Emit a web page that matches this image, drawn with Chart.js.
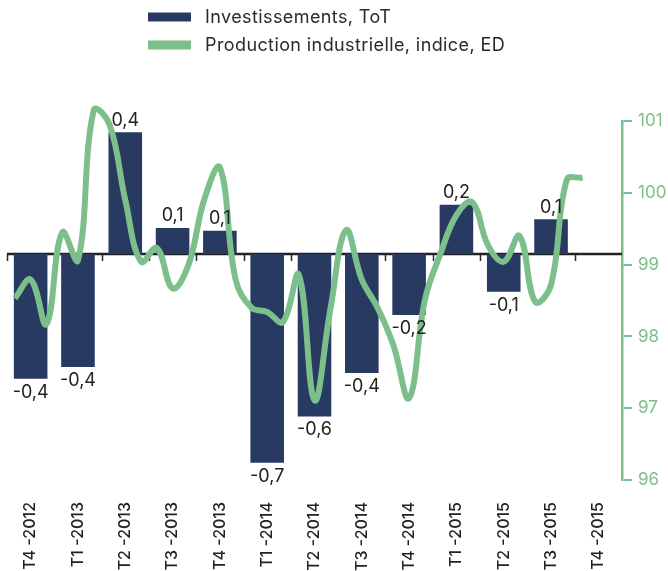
<!DOCTYPE html>
<html>
<head>
<meta charset="utf-8">
<script src="https://cdn.jsdelivr.net/npm/chart.js@4/dist/chart.umd.min.js"></script>
<style>
  html, body { margin: 0; padding: 0; background: #ffffff; }
  #wrap { position: relative; width: 668px; height: 571px; }
</style>
</head>
<body>
<div id="wrap"><canvas id="c" width="668" height="571"></canvas></div>
<script>
// ---- Data ----
const quarters = ['T4 -2012','T1 -2013','T2 -2013','T3 -2013','T4 -2013','T1 -2014','T2 -2014','T3 -2014','T4 -2014','T1 -2015','T2 -2015','T3 -2015','T4 -2015'];
const investissements = [-0.43, -0.39, 0.42, 0.09, 0.08, -0.72, -0.56, -0.41, -0.21, 0.17, -0.13, 0.12, null];
const months = ['2012-10','2012-11','2012-12','2013-01','2013-02','2013-03','2013-04','2013-05','2013-06','2013-07','2013-08','2013-09','2013-10','2013-11','2013-12','2014-01','2014-02','2014-03','2014-04','2014-05','2014-06','2014-07','2014-08','2014-09','2014-10','2014-11','2014-12','2015-01','2015-02','2015-03','2015-04','2015-05','2015-06','2015-07','2015-08','2015-09','2015-10'];
const production = [98.53, 98.79, 98.17, 99.45, 99.06, 101.15, 100.95, 99.90, 99.04, 99.23, 98.67, 98.99, 99.90, 100.35, 98.79, 98.40, 98.34, 98.20, 98.86, 97.11, 98.37, 99.48, 98.79, 98.40, 97.88, 97.14, 98.51, 99.16, 99.69, 99.87, 99.27, 99.04, 99.40, 98.48, 98.72, 100.18, 100.21];
const rightTicks = [96, 97, 98, 99, 100, 101];
const seriesNames = ['Investissements, ToT', 'Production industrielle, indice, ED'];

// ---- Styles ----
const NAVY = '#283a62';
const GREEN = '#7cbf8b';
const FONT = 'Inter, "Open Sans", sans-serif';

// month k (Oct 2012 = 0) -> position in quarter units (T4-2012 centre = 0)
const lineData = months.map((m, i) => ({ x: (i - 1) / 3, y: production[i] }));

const fmt = v => v.toFixed(1).replace('.', ',');

const zeroAxisPlugin = {
  id: 'zeroAxis',
  beforeDatasetsDraw(chart) {
    const x = chart.scales.x, y = chart.scales.y, ctx = chart.ctx;
    const y0 = Math.round(y.getPixelForValue(0));
    const n = quarters.length;
    const half = (x.getPixelForValue(1) - x.getPixelForValue(0)) / 2;
    ctx.save();
    ctx.strokeStyle = '#2a2a2a';
    ctx.lineWidth = 1.5;
    for (let i = 0; i < n; i++) {
      const bx = Math.round(x.getPixelForValue(i) - half) + 0.5;
      ctx.beginPath();
      ctx.moveTo(bx, y0);
      ctx.lineTo(bx, y0 + 7);
      ctx.stroke();
    }
    ctx.lineWidth = 2.5;
    ctx.strokeStyle = '#222222';
    ctx.beginPath();
    ctx.moveTo(chart.chartArea.left, y0);
    ctx.lineTo(chart.chartArea.right, y0);
    ctx.stroke();
    ctx.restore();
  }
};

const barLabelPlugin = {
  id: 'barLabels',
  afterDatasetsDraw(chart) {
    const meta = chart.getDatasetMeta(0);
    const ctx = chart.ctx;
    ctx.save();
    ctx.font = '18px ' + FONT;
    ctx.fillStyle = '#222222';
    ctx.textAlign = 'center';
    ctx.textBaseline = 'alphabetic';
    meta.data.forEach((el, i) => {
      const v = investissements[i];
      if (v === null || v === undefined) return;
      if (v >= 0) ctx.fillText(fmt(v), el.x, el.y - 6.5);
      else ctx.fillText(fmt(v), el.x, el.y + 19);
    });
    ctx.restore();
  }
};

const legendPlugin = {
  id: 'customLegend',
  afterDraw(chart) {
    const ctx = chart.ctx;
    ctx.save();
    ctx.font = '18px ' + FONT;
    if ('letterSpacing' in ctx) ctx.letterSpacing = '0.4px';
    ctx.textBaseline = 'middle';
    ctx.textAlign = 'left';
    const rows = [17, 45];
    chart.data.datasets.forEach((ds, i) => {
      ctx.fillStyle = ds.legendColor;
      ctx.fillRect(148, rows[i] - 4.5, 43, 9);
      ctx.fillStyle = '#2a2a2a';
      ctx.fillText(ds.label, 205, rows[i] + 1);
    });
    ctx.restore();
  }
};

new Chart(document.getElementById('c'), {
  type: 'bar',
  data: {
    labels: quarters,
    datasets: [
      {
        type: 'bar',
        label: seriesNames[0],
        data: investissements,
        backgroundColor: NAVY,
        legendColor: NAVY,
        xAxisID: 'x',
        yAxisID: 'y',
        grouped: false,
        barPercentage: 0.71,
        categoryPercentage: 1.0,
        order: 2
      },
      {
        type: 'line',
        label: seriesNames[1],
        data: lineData,
        borderColor: GREEN,
        legendColor: GREEN,
        borderWidth: 6,
        pointRadius: 0,
        tension: 0.4,
        fill: false,
        clip: false,
        borderCapStyle: 'butt',
        xAxisID: 'xl',
        yAxisID: 'y2',
        order: 1
      }
    ]
  },
  options: {
    responsive: false,
    animation: false,
    devicePixelRatio: 1,
    layout: { padding: { left: 7, right: 0, top: 121, bottom: 0 } },
    plugins: {
      legend: { display: false },
      tooltip: { enabled: false }
    },
    scales: {
      x: {
        type: 'category',
        position: 'bottom',
        offset: true,
        grid: { display: false, drawTicks: false },
        border: { display: false },
        ticks: {
          color: '#222222',
          font: { family: FONT, size: 16, weight: '500' },
          minRotation: 90,
          maxRotation: 90,
          padding: 22,
          autoSkip: false
        },
        afterFit: s => { s.height = 91; }
      },
      xl: {
        type: 'linear',
        axis: 'x',
        display: false,
        offset: false,
        grace: 0,
        min: -0.5,
        max: 12.5
      },
      y: {
        type: 'linear',
        display: false,
        min: -0.7793,
        max: 0.4586
      },
      y2: {
        type: 'linear',
        position: 'right',
        min: 96,
        max: 101,
        afterBuildTicks: s => { s.ticks = rightTicks.map(v => ({ value: v })); },
        grid: { drawOnChartArea: false, drawTicks: true, tickLength: 10, color: GREEN, lineWidth: 2 },
        border: { display: true, color: GREEN, width: 2.5 },
        ticks: {
          color: GREEN,
          font: { family: FONT, size: 17 },
          padding: 6
        },
        afterFit: s => { s.width = 46; }
      }
    }
  },
  plugins: [zeroAxisPlugin, barLabelPlugin, legendPlugin]
});
</script>
</body>
</html>
